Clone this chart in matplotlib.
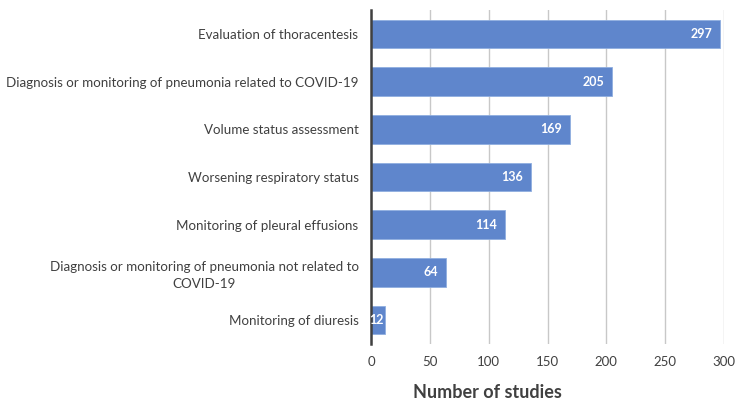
import matplotlib
matplotlib.use("Agg")
import matplotlib.pyplot as plt

plt.rcParams["font.family"] = ["Lato", "DejaVu Sans"]

# ── Data ──────────────────────────────────────────────────────────────────────
CATEGORIES = [
    "Evaluation of thoracentesis",
    "Diagnosis or monitoring of pneumonia related to COVID-19",
    "Volume status assessment",
    "Worsening respiratory status",
    "Monitoring of pleural effusions",
    "Diagnosis or monitoring of pneumonia not related to\nCOVID-19",
    "Monitoring of diuresis",
]
STUDIES = [297, 205, 169, 136, 114, 64, 12]
XTICKS = [0, 50, 100, 150, 200, 250, 300]

BAR_COLOR = "#5F86CC"
TEXT_COLOR = "#404040"

fig = plt.figure(figsize=(7.5, 4.16), dpi=100)
ax = fig.add_axes([371 / 750, 1 - 344 / 416, 353 / 750, 334 / 416])

y = list(range(len(CATEGORIES)))
ax.barh(y, STUDIES, height=0.6, color=BAR_COLOR, edgecolor="#8FAEE0",
        linewidth=0.6, zorder=3)
ax.set_ylim(len(CATEGORIES) - 0.5, -0.5)
ax.set_xlim(0, 300)

# value labels inside bar ends (short bars get a smaller inset so they fit)
for yi, v in zip(y, STUDIES):
    inset = -6 if v > 30 else -1
    ax.annotate(str(v), (v, yi), xytext=(inset, 0), textcoords="offset points",
                ha="right", va="center", color="white",
                fontsize=9, fontweight="bold", zorder=6)

ax.set_yticks(y)
ax.set_yticklabels(CATEGORIES, fontsize=9.6, color=TEXT_COLOR,
                   multialignment="center", linespacing=1.45)
ax.set_xticks(XTICKS)
ax.set_xticklabels([str(t) for t in XTICKS], fontsize=9.5, color=TEXT_COLOR)
ax.tick_params(axis="y", length=0, pad=9)
ax.tick_params(axis="x", length=0, pad=9)

ax.grid(axis="x", color="#C8C8C8", linewidth=1.0, zorder=0)
for s in ["top", "right", "bottom"]:
    ax.spines[s].set_visible(False)
ax.spines["left"].set_color("#404040")
ax.spines["left"].set_linewidth(1.8)
ax.spines["left"].set_zorder(5)

fig.text(487 / 750, 1 - 393 / 416, "Number of studies", ha="center",
         va="center", fontsize=13, fontweight="bold", color=TEXT_COLOR)

fig.savefig("out.png", dpi=100)
